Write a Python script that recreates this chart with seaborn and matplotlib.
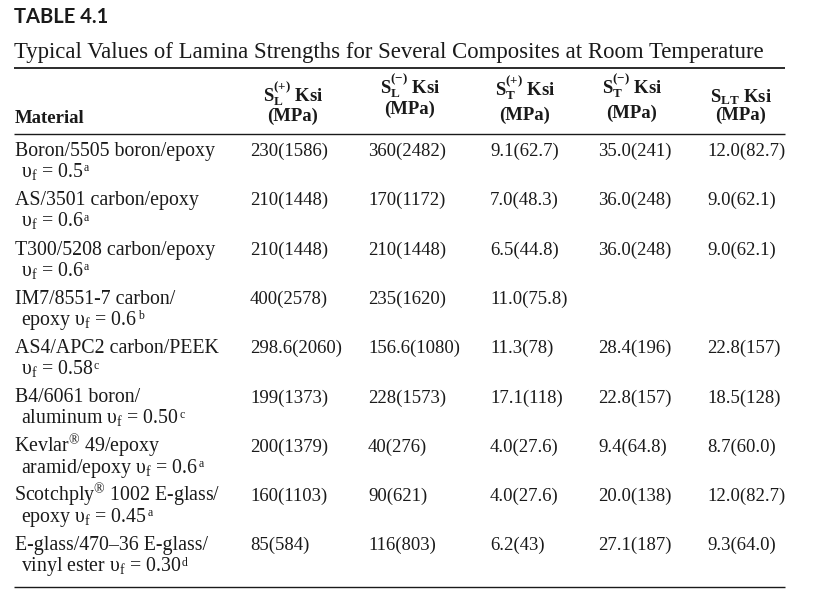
import numpy as np
import pandas as pd
import seaborn as sns
import matplotlib.pyplot as plt

# table contents
materials = ["Boron/5505 boron/epoxy", "AS/3501 carbon/epoxy", "T300/5208 carbon/epoxy",
             "IM7/8551-7 carbon/", "AS4/APC2 carbon/PEEK", "B4/6061 boron/",
             "Kevlar$^\\mathregular{®}$ 49/epoxy", "Scotchply$^\\mathregular{®}$ 1002 E-glass/",
             "E-glass/470–36 E-glass/"]
matrix_part = ["", "", "", "epoxy ", "", "aluminum ", "aramid/epoxy ", "epoxy ", "vinyl ester "]
vf = ["0.5", "0.6", "0.6", "0.6", "0.58", "0.50", "0.6", "0.45", "0.30"]
notes = ["a", "a", "a", "b", "c", "c", "a", "a", "d"]

SL_plus = ["230(1586)", "210(1448)", "210(1448)", "400(2578)", "298.6(2060)",
           "199(1373)", "200(1379)", "160(1103)", "85(584)"]
SL_minus = ["360(2482)", "170(1172)", "210(1448)", "235(1620)", "156.6(1080)",
            "228(1573)", "40(276)", "90(621)", "116(803)"]
ST_plus = ["9.1(62.7)", "7.0(48.3)", "6.5(44.8)", "11.0(75.8)", "11.3(78)",
           "17.1(118)", "4.0(27.6)", "4.0(27.6)", "6.2(43)"]
ST_minus = ["35.0(241)", "36.0(248)", "36.0(248)", "", "28.4(196)",
            "22.8(157)", "9.4(64.8)", "20.0(138)", "27.1(187)"]
SLT = ["12.0(82.7)", "9.0(62.1)", "9.0(62.1)", "", "22.8(157)",
       "18.5(128)", "8.7(60.0)", "12.0(82.7)", "9.3(64.0)"]

headers = ["S$_\\mathregular{L}^\\mathregular{(+)}$ Ksi", "S$_\\mathregular{L}^\\mathregular{(-)}$ Ksi",
           "S$_\\mathregular{T}^\\mathregular{(+)}$ Ksi", "S$_\\mathregular{T}^\\mathregular{(-)}$ Ksi",
           "S$_\\mathregular{LT}$ Ksi"]

df = pd.DataFrame({"material": materials, "matrix": matrix_part, "vf": vf, "note": notes,
                   "SL+": SL_plus, "SL-": SL_minus, "ST+": ST_plus, "ST-": ST_minus, "SLT": SLT})

sns.set_theme(style="white")
plt.rcParams['font.family'] = ['Liberation Serif', 'DejaVu Serif']
plt.rcParams['mathtext.fontset'] = 'custom'
plt.rcParams['mathtext.rm'] = 'Liberation Serif'
plt.rcParams['mathtext.it'] = 'Liberation Serif:italic'
plt.rcParams['mathtext.bf'] = 'Liberation Serif:bold'

fig = plt.figure(figsize=(8.19, 5.95), dpi=100)
ax = fig.add_axes([0, 0, 1, 1])
ax.set_xlim(0, 819)
ax.set_ylim(595, 0)
ax.axis('off')

ink = '#1a1a1a'
fs = 13.5      # values / header
fs_mat = 14.3  # material column

ax.text(14, 23, "TABLE 4.1", family=['Lato', 'DejaVu Sans'], fontweight='bold',
        fontsize=14.5, color=ink, va='baseline')
ax.text(14, 58, "Typical Values of Lamina Strengths for Several Composites at Room Temperature",
        fontsize=16.4, color=ink, va='baseline')

ax.hlines([68], 14, 785, color=ink, lw=1.3)
ax.hlines([134, 587], 14, 785, color=ink, lw=1.0)

# header
ax.text(15, 123, "Material", fontsize=fs, fontweight='bold', color=ink, va='baseline')
col_centers = [293, 410, 525, 632, 741]
head_base = [(102, 121), (93, 114), (96, 120), (94, 118), (102, 120)]
for c, h, (b1, b2) in zip(col_centers, headers, head_base):
    ax.text(c, b1, h, fontsize=fs, fontweight='bold', color=ink, ha='center', va='baseline')
    ax.text(c, b2, "(MPa)", fontsize=fs, fontweight='bold', color=ink, ha='center', va='baseline')

# body
col_left = [250, 368, 490, 598, 707]
y0, step, sub = 156, 49.3, 21
for i, row in df.iterrows():
    y = y0 + i * step
    x1 = 14 if "$" in row["material"] else 15
    ax.text(x1, y, row["material"], fontsize=fs_mat, color=ink, va='baseline')
    line2 = row["matrix"] + "υ$_\\mathregular{f}$ = " + row["vf"]
    t2 = ax.text(21, y + sub, line2, fontsize=fs_mat, color=ink, va='baseline')
    # footnote mark just after the second line, near the top of the digits
    ax.annotate(row["note"], xy=(1, 1), xycoords=t2, xytext=(0.3, -1.0),
                textcoords='offset points', fontsize=8.5, color=ink, ha='left', va='top')
    for x, key in zip(col_left, ["SL+", "SL-", "ST+", "ST-", "SLT"]):
        if row[key]:
            ax.text(x, y, row[key], fontsize=fs, color=ink, va='baseline')

fig.savefig("out.png", dpi=100, facecolor='white')
